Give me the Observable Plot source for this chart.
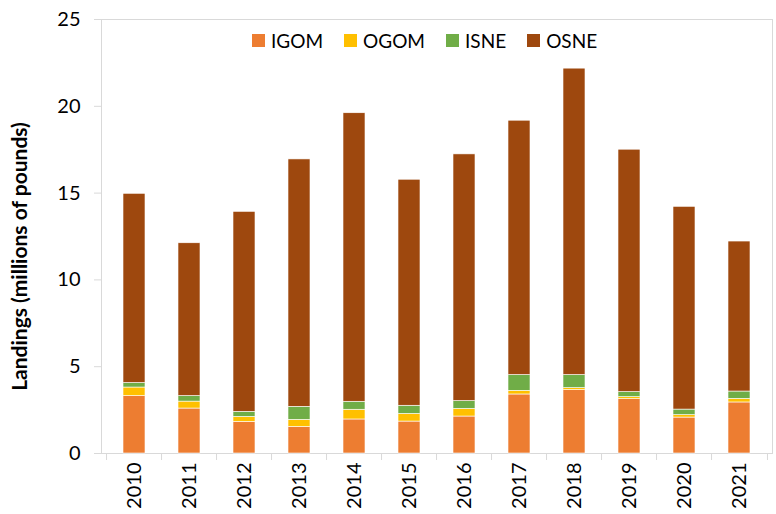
<!DOCTYPE html>
<html>
<head>
<meta charset="utf-8">
<script src="https://cdn.jsdelivr.net/npm/d3@7"></script>
<script src="https://cdn.jsdelivr.net/npm/@observablehq/plot@0.6"></script>
<style>
  body { margin: 0; background: #fff; }
  #wrap { position: relative; width: 776px; height: 514px; font-family: Lato, sans-serif; }
  #legend { position: absolute; top: 24px; left: 252px; }
  #legend [class$="-swatch"] { margin-right: 21px; font-size: 19px; color: #000; }
  #legend [class$="-swatch"] > svg { margin-right: 6px; }
</style>
</head>
<body>
<div id="wrap"><div id="legend"></div></div>
<script>
const years = [2010, 2011, 2012, 2013, 2014, 2015, 2016, 2017, 2018, 2019, 2020, 2021];
const series = ["IGOM", "OGOM", "ISNE", "OSNE"];
const colors = ["#ED7D31", "#FFC000", "#70AD47", "#9E480E"];
const igom = [3.31, 2.59, 1.82, 1.53, 1.96, 1.84, 2.13, 3.40, 3.65, 3.13, 2.07, 2.94];
const ogom = [0.49, 0.40, 0.29, 0.41, 0.56, 0.44, 0.44, 0.21, 0.12, 0.12, 0.14, 0.21];
const isne = [0.26, 0.32, 0.29, 0.75, 0.46, 0.47, 0.45, 0.91, 0.75, 0.29, 0.32, 0.42];
const osne = [10.90, 8.80, 11.52, 14.25, 16.62, 13.02, 14.21, 14.65, 17.65, 13.96, 11.68, 8.64];
const yTicks = [0, 5, 10, 15, 20, 25];
const yTitle = "Landings (millions of pounds)";

const values = {IGOM: igom, OGOM: ogom, ISNE: isne, OSNE: osne};
const rows = [];
series.forEach(s => years.forEach((yr, i) => rows.push({year: yr, series: s, value: values[s][i]})));

const W = 776, H = 514, mL = 101, mR = 4, mT = 19, mB = 61;
const step = (W - mL - mR) / years.length;
const grid = "#d9d9d9";

const chart = Plot.plot({
  width: W, height: H,
  marginLeft: mL, marginRight: mR, marginTop: mT, marginBottom: mB,
  style: {fontFamily: "Lato, sans-serif", fontSize: "20px", color: "#000", background: "#fff"},
  x: {type: "band", domain: years, paddingInner: 0.6, paddingOuter: 0.3, axis: null},
  y: {domain: [0, 25], axis: null},
  color: {domain: series, range: colors},
  marks: [
    Plot.frame({stroke: grid}),
    Plot.barY(rows, {x: "year", y: "value", fill: "series", order: series, stroke: "#fff", strokeWidth: 0.6}),
    Plot.axisY({ticks: yTicks, tickSize: 7, tickPadding: 14, stroke: grid, fill: "#000",
      label: yTitle, labelAnchor: "center", labelOffset: 89, labelArrow: false}),
    Plot.axisX({ticks: years, tickSize: 0, tickPadding: 9, tickRotate: -90, fill: "#000", label: null,
      tickFormat: d => String(d)}),
    Plot.axisX({ticks: years, tickSize: 7, stroke: grid, fill: "none", tickFormat: () => "", dx: -step / 2, label: null}),
    Plot.axisX({ticks: [years[years.length - 1]], tickSize: 7, stroke: grid, fill: "none", tickFormat: () => "", dx: step / 2, label: null})
  ]
});
document.getElementById("wrap").prepend(chart);

const lab = d3.select(chart).select('g[aria-label="y-axis label"] text');
lab.attr("font-weight", "bold").attr("font-size", "21px").attr("dx", -20);

const leg = Plot.legend({color: {domain: series, range: colors}, legend: "swatches", swatchSize: 13,
  style: {fontFamily: "Lato, sans-serif", fontSize: "19px", color: "#000"}});
document.getElementById("legend").append(leg);
</script>
</body>
</html>
